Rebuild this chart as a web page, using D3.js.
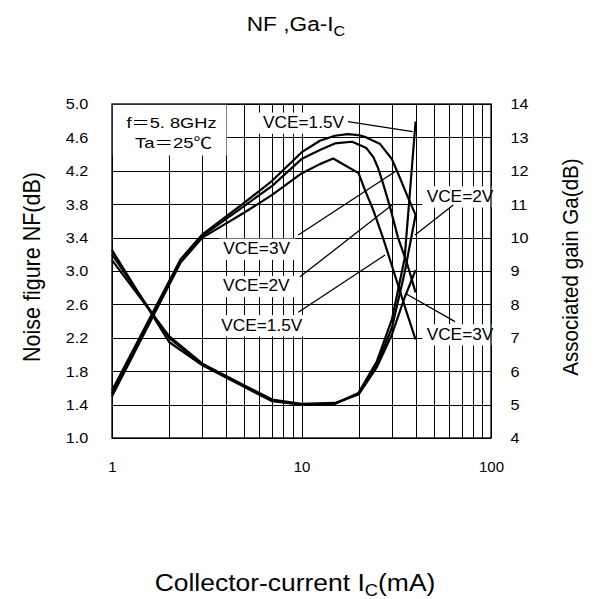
<!DOCTYPE html>
<html><head><meta charset="utf-8">
<script src="https://cdn.jsdelivr.net/npm/d3@7"></script>
<style>body{margin:0;background:#fff}svg{display:block}</style>
</head><body>
<svg id="c" width="597" height="599"></svg>
<script>
// ---------- data ----------
const nfTicks = [1.0, 1.4, 1.8, 2.2, 2.6, 3.0, 3.4, 3.8, 4.2, 4.6, 5.0];
const gaTicks = [4, 5, 6, 7, 8, 9, 10, 11, 12, 13, 14];
const icTicks = [1, 10, 100];

// Noise figure NF (dB) vs Ic (mA)
const icNF = [1, 2, 3, 5, 7, 10, 15, 20, 25, 30, 35, 40];
const nf15 = [3.25, 2.15, 1.87, 1.61, 1.44, 1.40, 1.41, 1.54, 1.92, 2.42, 3.15, 4.79];
const nf2  = [3.20, 2.20, 1.88, 1.62, 1.45, 1.40, 1.41, 1.53, 1.88, 2.32, 2.98, 3.67];
const nf3  = [3.13, 2.22, 1.89, 1.63, 1.46, 1.41, 1.42, 1.52, 1.85, 2.24, 2.68, 3.01];

// Associated gain Ga (dB) vs Ic (mA)
const icGa3  = [1, 2.3, 3, 5, 7, 10, 12.5, 15, 17.5, 20, 22, 26, 30, 33, 36, 40];
const ga3    = [5.42, 9.35, 10.1, 11.05, 11.7, 12.55, 12.9, 13.05, 13.1, 13.07, 13.0, 12.8, 12.35, 11.8, 11.28, 10.68];
const icGa2  = [1, 2.3, 3, 5, 7, 10, 12.5, 15, 18.5, 22, 24, 25.3, 27, 29.3, 32.3, 36, 40];
const ga2    = [5.33, 9.3, 10.05, 10.95, 11.55, 12.35, 12.62, 12.82, 12.87, 12.68, 12.4, 12.1, 11.6, 10.92, 10.0, 9.24, 8.36];
const icGa15 = [1, 2.3, 3, 5, 7, 10, 12.5, 14.7, 20, 21.6, 23.9, 26.9, 30.5, 36, 40];
const ga15   = [5.25, 9.25, 10.0, 10.75, 11.28, 11.92, 12.2, 12.37, 11.93, 11.43, 10.83, 10.0, 9.03, 7.74, 6.95];

// annotation labels: text, Ic, NF (baseline)
const labelText = ["VCE=1.5V", "VCE=3V", "VCE=2V", "VCE=1.5V", "VCE=2V", "VCE=3V"];
const labelIc   = [10.25, 5.8, 5.77, 6.17, 68.6, 68.6];
const labelNF   = [4.713, 3.204, 2.756, 2.287, 3.83, 2.177];
// pointer lines: from (Ic,NF) to (Ic,NF)
const ptrIc0 = [17.6, 9.62, 9.82, 9.62, 63.2, 64.6];
const ptrNF0 = [4.788, 3.431, 2.93, 2.506, 3.79, 2.393];
const ptrIc1 = [38.6, 31.1, 30.5, 27.6, 39.7, 35.2];
const ptrNF1 = [4.668, 4.189, 3.802, 3.192, 3.431, 2.733];

const legendLines = ["f\uFF1D5. 8GHz", "Ta\uFF1D25\u2103"];

// ---------- layout ----------
const svg = d3.select("#c");
const L = 112, R = 491, T = 104, B = 438;
const FONT = "'Liberation Sans', Arial, 'Noto Sans CJK JP', sans-serif";
const SX = 1.08; // horizontal stretch of lettering in the reference

const x = d3.scaleLog().domain([1, 100]).range([L, R]);
const yNF = d3.scaleLinear().domain([1, 5]).range([B, T]);
const yGa = d3.scaleLinear().domain([4, 14]).range([B, T]);

const gGrid = svg.append("g");
const gBox = svg.append("g");
const gCurve = svg.append("g");
const gText = svg.append("g").attr("font-family", FONT).attr("fill", "#000");

// grid lines
const vGrid = d3.axisBottom(x).tickValues(x.ticks()).tickSize(-(B - T)).tickFormat("");
gGrid.append("g").attr("transform", `translate(0,${B})`).call(vGrid)
  .call(g => g.select(".domain").remove())
  .call(g => g.selectAll("line").attr("stroke", "#000").attr("stroke-width", 1).attr("shape-rendering", "crispEdges"));
const hGrid = d3.axisLeft(yNF).tickValues(nfTicks).tickSize(-(R - L)).tickFormat("");
gGrid.append("g").attr("transform", `translate(${L},0)`).call(hGrid)
  .call(g => g.select(".domain").remove())
  .call(g => g.selectAll("line").attr("stroke", "#000").attr("stroke-width", 1).attr("shape-rendering", "crispEdges"));

// legend box (white, hides grid)
gBox.append("rect").attr("x", L + 0.5).attr("y", T + 0.5).attr("width", 114).attr("height", 51).attr("fill", "#fff");

// plot border
gCurve.append("rect").attr("x", L).attr("y", T).attr("width", R - L).attr("height", B - T)
  .attr("fill", "none").attr("stroke", "#000").attr("stroke-width", 1.3);

// curves
const lineNF = (ics, vals) => d3.line().x((d, i) => x(ics[i])).y(d => yNF(d))(vals);
const lineGa = (ics, vals) => d3.line().x((d, i) => x(ics[i])).y(d => yGa(d))(vals);
const curves = [lineNF(icNF, nf15), lineNF(icNF, nf2), lineNF(icNF, nf3),
                lineGa(icGa3, ga3), lineGa(icGa2, ga2), lineGa(icGa15, ga15)];
gCurve.selectAll("path.c").data(curves).join("path").attr("class", "c")
  .attr("d", d => d).attr("fill", "none").attr("stroke", "#000")
  .attr("stroke-width", 2.2).attr("stroke-linejoin", "round");

// pointer lines
gCurve.selectAll("line.p").data(labelText).join("line").attr("class", "p")
  .attr("x1", (d, i) => x(ptrIc0[i])).attr("y1", (d, i) => yNF(ptrNF0[i]))
  .attr("x2", (d, i) => x(ptrIc1[i])).attr("y2", (d, i) => yNF(ptrNF1[i]))
  .attr("stroke", "#000").attr("stroke-width", 1.3);

// annotation labels with white backing boxes
labelText.forEach((s, i) => {
  const tx = x(labelIc[i]), ty = yNF(labelNF[i]);
  const tr = `translate(${tx},${ty}) scale(${SX},1)`;
  const t = gText.append("text").attr("transform", tr).attr("text-anchor", "middle")
    .attr("font-size", 16).text(s);
  const bb = t.node().getBBox();
  gBox.append("rect").attr("transform", tr)
    .attr("x", bb.x - 4).attr("y", bb.y - 1).attr("width", bb.width + 8).attr("height", bb.height + 3)
    .attr("fill", "#fff");
});

// legend text
legendLines.forEach((s, i) => {
  gText.append("text").attr("x", [126.5, 135][i]).attr("y", [128, 148][i])
    .attr("font-size", 15).attr("textLength", [90, 77][i]).attr("lengthAdjust", "spacingAndGlyphs").text(s);
});

// axes labels
const axL = d3.axisLeft(yNF).tickValues(nfTicks).tickFormat(d3.format(".1f")).tickSize(0).tickPadding(22);
gText.append("g").attr("transform", `translate(${L},0)`).call(axL)
  .call(g => g.select(".domain").remove())
  .call(g => g.selectAll("text").attr("font-size", 15).attr("font-family", FONT).attr("fill", "#000")
    .attr("transform", `scale(${SX},1)`));
const axR = d3.axisRight(yGa).tickValues(gaTicks).tickFormat(d3.format("d")).tickSize(0).tickPadding(18);
gText.append("g").attr("transform", `translate(${R},0)`).call(axR)
  .call(g => g.select(".domain").remove())
  .call(g => g.selectAll("text").attr("font-size", 15).attr("font-family", FONT).attr("fill", "#000")
    .attr("transform", `scale(${SX},1)`));
const axB = d3.axisBottom(x).tickValues(icTicks).tickFormat(d3.format("d")).tickSize(0).tickPadding(23);
gText.append("g").attr("transform", `translate(0,${B})`).call(axB)
  .call(g => g.select(".domain").remove())
  .call(g => g.selectAll("text").attr("font-size", 15).attr("font-family", FONT).attr("fill", "#000"));

// titles
const title = gText.append("text").attr("transform", `translate(296,31) scale(${SX},1)`)
  .attr("text-anchor", "middle").attr("font-size", 21);
title.append("tspan").text("NF  ,Ga-I");
title.append("tspan").attr("font-size", 15).attr("dy", 5).text("C");

const xt = gText.append("text").attr("transform", `translate(295,591) scale(${SX},1)`)
  .attr("text-anchor", "middle").attr("font-size", 24.5);
xt.append("tspan").text("Collector-current I");
xt.append("tspan").attr("font-size", 17).attr("dy", 5).text("C");
xt.append("tspan").attr("dy", -5).text("(mA)");

gText.append("text").attr("transform", `translate(40,267) scale(${SX},1) rotate(-90)`)
  .attr("text-anchor", "middle").attr("font-size", 21.5).text("Noise figure NF(dB)");
gText.append("text").attr("transform", `translate(578,267) scale(${SX},1) rotate(-90)`)
  .attr("text-anchor", "middle").attr("font-size", 20.6).text("Associated gain Ga(dB)");
</script>
</body></html>
